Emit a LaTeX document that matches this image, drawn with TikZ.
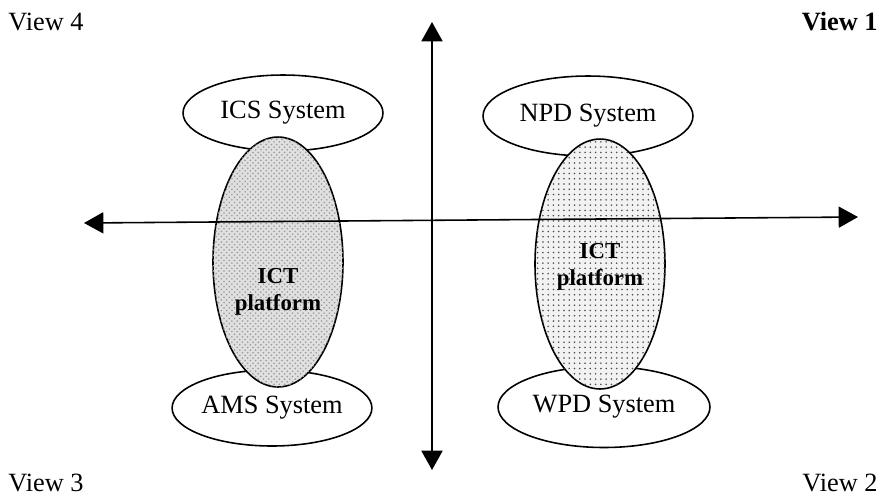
\documentclass[tikz,border=0pt]{standalone}
\usepackage{fontspec}
\setmainfont{Liberation Serif}
\usetikzlibrary{arrows.meta,shapes,patterns}
\tikzset{
	>={Triangle[length=11pt,width=12pt]},
	sysbox/.style={
		ellipse,
		draw=black, line width=0.9pt,
		fill=white,
		inner sep=0pt,
		font=\fontsize{15}{17}\selectfont},
	platbox/.style={
		ellipse,
		draw=black, line width=0.9pt,
		minimum width=2.6cm,
		minimum height=5cm},
	plattext/.style={
		align=center,
		inner sep=0pt,
		font=\fontsize{13}{15}\selectfont\bfseries},
	axis/.style={draw, line width=0.9pt, <->},
	viewlabel/.style={inner sep=0pt, font=\fontsize{15}{17}\selectfont},
}

\begin{document}
\begin{tikzpicture}[x=0.02cm, y=-0.02cm]
	\useasboundingbox (0,0) rectangle (883,495);
	% systems
	\node[sysbox, minimum width=4cm, minimum height=1.52cm] (ics) at (283,113) {ICS System};
	\node[sysbox, minimum width=3.6cm, minimum height=1.52cm] (ams) at (272,408) {AMS System};
	\node[sysbox, minimum width=4.2cm, minimum height=1.6cm] (npd) at (588,116) {NPD System};
	\node[sysbox, minimum width=4.24cm, minimum height=1.62cm] (wpd) at (604,407) {WPD System};
	% platforms
	\node[platbox, fill=black!12, postaction={pattern=crosshatch dots, pattern color=black!40}] (ictl) at (278,262) {};
	\node[platbox, fill=black!5, postaction={pattern=dots, pattern color=black!70}] (ictr) at (600,264) {};
	\node[plattext] (ictltext) at ([yshift=-0.6cm]ictl.center) {ICT\\platform};
	\node[plattext] (ictrtext) at ([yshift=-0.06cm]ictr.center) {ICT\\platform};
	% axes
	\coordinate (west) at (84,223);
	\coordinate (east) at (858,217);
	\coordinate (north) at (432,22);
	\coordinate (south) at (432,470);
	\draw[axis] (west) -- (east);
	\draw[axis] (north) -- (south);
	% views
	\node[viewlabel, anchor=west] (view4) at (8,22) {View 4};
	\node[viewlabel, anchor=east] (view1) at (878,22) {\bfseries View 1};
	\node[viewlabel, anchor=west] (view3) at (8,483) {View 3};
	\node[viewlabel, anchor=east] (view2) at (878,483) {View 2};
\end{tikzpicture}
\end{document}
